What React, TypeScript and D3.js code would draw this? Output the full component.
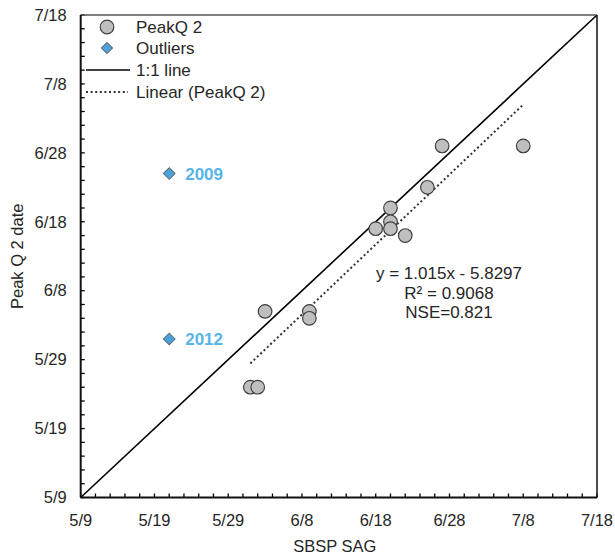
import React from "react";
import * as d3 from "d3";

// Peak date of the second flow peak: SBSP SAG (x) vs observed (y), 2015 calendar
const peakSag = ["6/27", "7/8", "6/25", "6/20", "6/20", "6/20", "6/18", "6/22", "6/3", "6/9", "6/9", "6/1", "6/2"];
const peakObs = ["6/29", "6/29", "6/23", "6/20", "6/18", "6/17", "6/17", "6/16", "6/5", "6/5", "6/4", "5/25", "5/25"];

const outlierYears = ["2009", "2012"];
const outlierSag = ["5/21", "5/21"];
const outlierObs = ["6/25", "6/1"];

const axisStart = "5/9";
const axisEnd = "7/18";
const majorStep = 10;
const minorStep = 2;

// Excel trendline on day-of-year values
const slope = 1.015;
const intercept = -5.8297;
const annotation = ["y = 1.015x - 5.8297", "R² = 0.9068", "NSE=0.821"];

const legendLabels = ["PeakQ 2", "Outliers", "1:1 line", "Linear (PeakQ 2)"];

const parse = (s: string) => d3.timeParse("%Y/%m/%d")("2015/" + s) as Date;
const fmt = d3.timeFormat("%-m/%-d");
const doy = (d: Date) => d3.timeDay.count(d3.timeYear(d), d) + 1;
const fromDoy = (n: number) => new Date(d3.timeYear(parse("1/1")).getTime() + (n - 1) * 86400000);

const W = 615;
const H = 558;
const left = 80.7;
const right = 597;
const top = 15;
const bottom = 497.5;

const FONT = "'Liberation Sans', Arial, sans-serif";

export default function App() {
  const d0 = parse(axisStart);
  const d1 = parse(axisEnd);
  const x = d3.scaleTime().domain([d0, d1]).range([left, right]);
  const y = d3.scaleTime().domain([d0, d1]).range([bottom, top]);

  const span = d3.timeDay.count(d0, d1);
  const majors = d3.range(0, span + 1, majorStep).map((k) => d3.timeDay.offset(d0, k));
  const minors = d3.range(0, span + 1, minorStep).map((k) => d3.timeDay.offset(d0, k));

  const pts = peakSag.map((s, i) => ({ x: parse(s), y: parse(peakObs[i]) }));
  const outs = outlierSag.map((s, i) => ({ x: parse(s), y: parse(outlierObs[i]), label: outlierYears[i] }));

  const xs = pts.map((p) => doy(p.x));
  const xMin = d3.min(xs) as number;
  const xMax = d3.max(xs) as number;
  const trend = [xMin, xMax].map((v) => ({ x: fromDoy(v), y: fromDoy(slope * v + intercept) }));
  const trendLine = d3
    .line<{ x: Date; y: Date }>()
    .x((d) => x(d.x))
    .y((d) => y(d.y))(trend) as string;

  const diamond = d3.symbol(d3.symbolSquare, 68)() as string;

  const textColor = "#262626";
  const legX = 107;
  const legY = [27, 48, 70, 92];

  return (
    <svg width={W} height={H} style={{ position: "absolute", left: 0, top: 0, background: "#fff" }} fontFamily={FONT}>
      {/* minor ticks */}
      {minors.map((d, i) => (
        <g key={"m" + i} stroke="#000" strokeWidth={1.3}>
          <line x1={left} x2={left + 4} y1={y(d)} y2={y(d)} />
          <line x1={x(d)} x2={x(d)} y1={bottom} y2={bottom - 4} />
        </g>
      ))}

      {/* 1:1 line */}
      <line x1={x(d0)} y1={y(d0)} x2={x(d1)} y2={y(d1)} stroke="#000" strokeWidth={1.6} />

      {/* trendline */}
      <path d={trendLine} stroke="#333" strokeWidth={2} strokeDasharray="2,2.6" fill="none" />

      {/* frame */}
      <line x1={left} x2={right} y1={top} y2={top} stroke="#555" strokeWidth={1.5} />
      <line x1={right} x2={right} y1={top} y2={bottom} stroke="#111" strokeWidth={1.5} />
      <line x1={left} x2={left} y1={top} y2={bottom} stroke="#111" strokeWidth={2} />
      <line x1={left} x2={right} y1={bottom} y2={bottom} stroke="#111" strokeWidth={2} />

      {/* tick labels */}
      {majors.map((d, i) => (
        <g key={"t" + i} fontSize={16.5} fill={textColor}>
          <text x={left - 14} y={y(d)} dy="0.35em" textAnchor="end">
            {fmt(d)}
          </text>
          <text x={x(d)} y={bottom + 28} textAnchor="middle">
            {fmt(d)}
          </text>
        </g>
      ))}

      {/* axis titles */}
      <text x={(left + right) / 2 - 4} y={552} textAnchor="middle" fontSize={16.5} fill={textColor}>
        SBSP SAG
      </text>
      <text
        transform={`translate(23,${(top + bottom) / 2}) rotate(-90)`}
        textAnchor="middle"
        fontSize={16.5}
        fill={textColor}
      >
        Peak Q 2 date
      </text>

      {/* PeakQ 2 points */}
      {pts.map((p, i) => (
        <circle key={"p" + i} cx={x(p.x)} cy={y(p.y)} r={6.8} fill="#bfbfbf" stroke="#404040" strokeWidth={1.2} />
      ))}

      {/* outliers */}
      {outs.map((p, i) => (
        <g key={"o" + i}>
          <path
            d={diamond}
            transform={`translate(${x(p.x)},${y(p.y)}) rotate(45)`}
            fill="#4ba3db"
            stroke="#5a6b78"
            strokeWidth={1}
          />
          <text x={x(p.x) + 16} y={y(p.y)} dy="0.36em" fontSize={17} fontWeight="bold" fill="#56b4e9">
            {p.label}
          </text>
        </g>
      ))}

      {/* regression annotation */}
      {annotation.map((t, i) => (
        <text key={"a" + i} x={449} y={279 + i * 19.5} textAnchor="middle" fontSize={17} fill={textColor}>
          {t}
        </text>
      ))}

      {/* legend */}
      <g fontSize={17} fill={textColor}>
        <circle cx={legX} cy={legY[0]} r={6.8} fill="#bfbfbf" stroke="#404040" strokeWidth={1.2} />
        <path d={d3.symbol(d3.symbolSquare, 62)() as string} transform={`translate(${legX},${legY[1]}) rotate(45)`} fill="#4ba3db" stroke="#5a6b78" strokeWidth={1} />
        <line x1={86} x2={130} y1={legY[2]} y2={legY[2]} stroke="#000" strokeWidth={1.6} />
        <line x1={86} x2={128} y1={legY[3]} y2={legY[3]} stroke="#333" strokeWidth={2} strokeDasharray="2,2.6" />
        {legendLabels.map((t, i) => (
          <text key={"l" + i} x={136} y={legY[i]} dy="0.36em">
            {t}
          </text>
        ))}
      </g>
    </svg>
  );
}
